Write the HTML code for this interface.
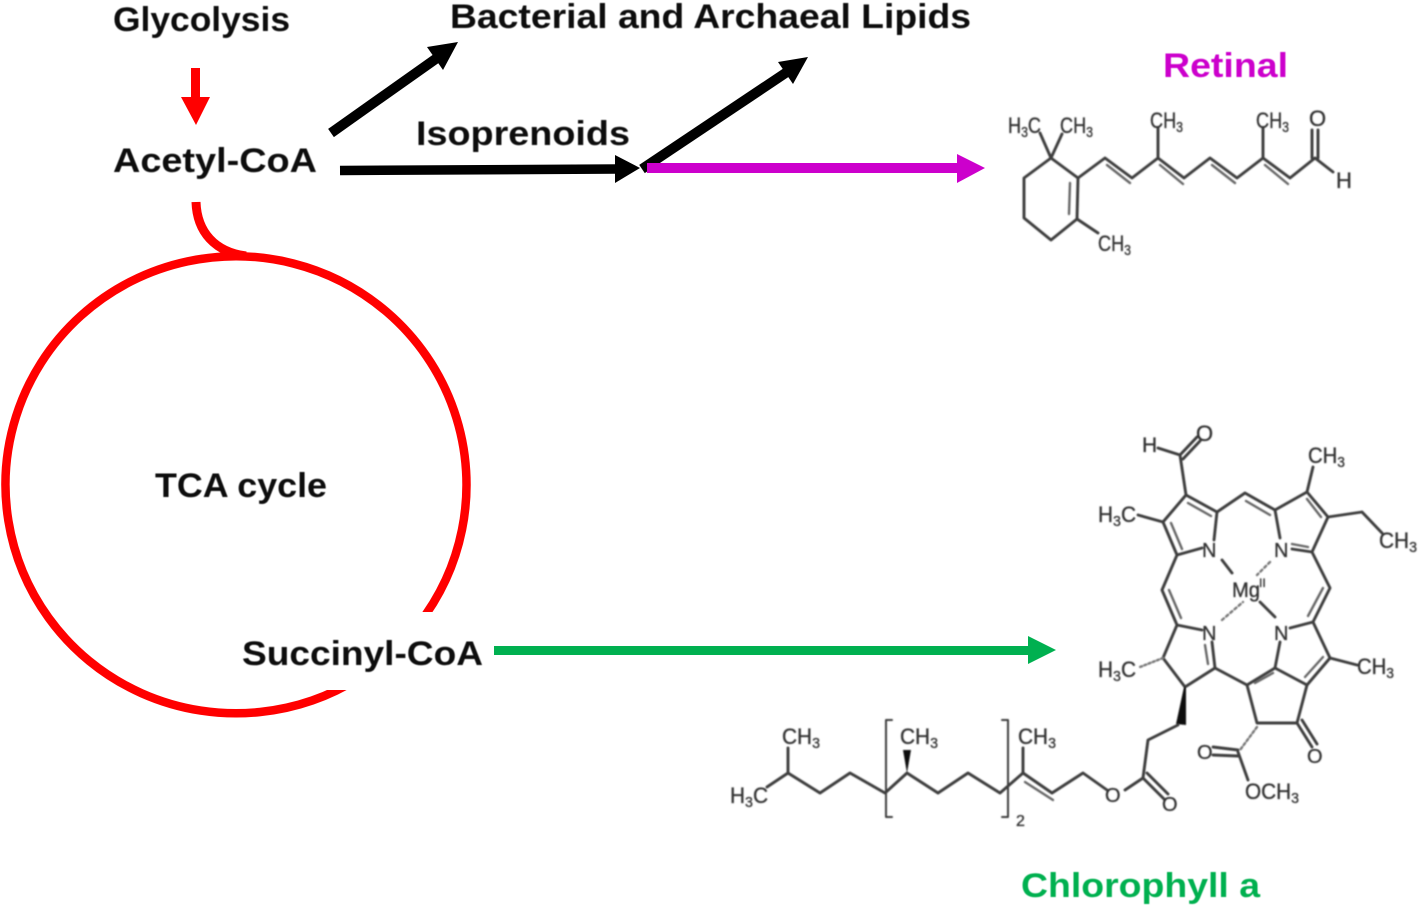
<!DOCTYPE html>
<html><head><meta charset="utf-8"><style>
html,body{margin:0;padding:0;background:#fff;width:1418px;height:905px;overflow:hidden}
svg{display:block}
.t{font-family:"Liberation Sans",sans-serif;font-weight:bold;font-size:34px;fill:#0a0a0a}
.c{font-family:"Liberation Sans",sans-serif;font-size:22px;fill:#333;stroke:#333;stroke-width:.35}
.c .s{font-size:15px}
.b{fill:none;stroke:#3c3c3c;stroke-width:2.9;stroke-linejoin:round;stroke-linecap:round}
.i{fill:none;stroke:#666;stroke-width:2.4;stroke-linecap:round}
.d{fill:none;stroke:#777;stroke-width:2.4;stroke-linecap:round}
</style></head><body>
<svg width="1418" height="905" viewBox="0 0 1418 905" xmlns="http://www.w3.org/2000/svg">
<defs><filter id="bl" x="-5%" y="-5%" width="110%" height="110%"><feGaussianBlur stdDeviation="0.7"/></filter>
<filter id="bt" x="-5%" y="-20%" width="110%" height="140%"><feGaussianBlur stdDeviation="0.4"/></filter></defs>

<!-- TCA cycle -->
<path d="M418 625 A230.5 228.5 0 1 0 360 677.4" fill="none" stroke="#ff0000" stroke-width="8.5"/>
<rect x="400" y="612" width="50" height="20" fill="#fff"/>
<rect x="325" y="668" width="50" height="22" fill="#fff"/>
<path d="M196 202 C197 232 215 252 246 256" fill="none" stroke="#ff0000" stroke-width="9"/>

<!-- red arrow -->
<path d="M191 68H200V97H210L196 125L181 97H191Z" fill="#ff0000"/>

<!-- black arrows -->
<path d="M331 133L437 58" stroke="#000" stroke-width="10" fill="none"/>
<path d="M458 42L427 47L443 70Z" fill="#000"/>
<path d="M340 170.5L618 169" stroke="#000" stroke-width="9.5" fill="none"/>
<path d="M615 155L640 168L615 183Z" fill="#000"/>
<path d="M642 169L787 72" stroke="#000" stroke-width="10" fill="none"/>
<path d="M808 57L778 62L793 84Z" fill="#000"/>

<!-- magenta arrow -->
<path d="M647 163H957V154L985 168L957 183V173H647Z" fill="#cc00cc"/>
<!-- green arrow -->
<path d="M494 646H1028V636L1056 650L1028 664V655H494Z" fill="#00b050"/>

<!-- labels -->
<g filter="url(#bt)">
<text class="t" x="113" y="31" textLength="177" lengthAdjust="spacingAndGlyphs">Glycolysis</text>
<text class="t" x="450" y="28" textLength="521" lengthAdjust="spacingAndGlyphs">Bacterial and Archaeal Lipids</text>
<text class="t" x="1163" y="77" textLength="125" lengthAdjust="spacingAndGlyphs" style="fill:#cc00cc">Retinal</text>
<text class="t" x="416" y="145" textLength="214" lengthAdjust="spacingAndGlyphs">Isoprenoids</text>
<text class="t" x="113" y="172" textLength="204" lengthAdjust="spacingAndGlyphs">Acetyl-CoA</text>
<text class="t" x="155" y="497" textLength="172" lengthAdjust="spacingAndGlyphs">TCA cycle</text>
<text class="t" x="242" y="665" textLength="241" lengthAdjust="spacingAndGlyphs">Succinyl-CoA</text>
<text class="t" x="1021" y="897" textLength="239" lengthAdjust="spacingAndGlyphs" style="fill:#00b050">Chlorophyll a</text>
</g>

<!-- retinal -->
<g filter="url(#bl)">
<path class="b" d="M1051 158L1078 178L1077 219L1051 240L1024 218V178L1051 158"/>
<path class="i" d="M1070 183L1069 214"/>
<path class="b" d="M1051 158L1040 133M1051 158L1062 134M1077 219L1098 233"/>
<path class="b" d="M1078 178L1105 158L1132 178L1158 158L1184 178L1210 158L1237 178L1263 158L1290 178L1315 158L1333 172"/>
<path class="i" d="M1107 165L1130 183M1160 165L1183 184M1212 165L1235 183M1265 165L1288 184"/>
<path class="b" d="M1158 158V128M1263 158V128M1312 158V130M1318 158V130"/>
<text class="c" x="1008" y="133" textLength="33" lengthAdjust="spacingAndGlyphs">H<tspan class="s" dy="4">3</tspan><tspan dy="-4">C</tspan></text>
<text class="c" x="1060" y="133" textLength="33" lengthAdjust="spacingAndGlyphs">CH<tspan class="s" dy="4">3</tspan></text>
<text class="c" x="1150" y="128" textLength="33" lengthAdjust="spacingAndGlyphs">CH<tspan class="s" dy="4">3</tspan></text>
<text class="c" x="1256" y="128" textLength="33" lengthAdjust="spacingAndGlyphs">CH<tspan class="s" dy="4">3</tspan></text>
<text class="c" x="1309" y="126">O</text>
<text class="c" x="1336" y="188">H</text>
<text class="c" x="1098" y="251" textLength="33" lengthAdjust="spacingAndGlyphs">CH<tspan class="s" dy="4">3</tspan></text>
</g>

<!-- chlorophyll a -->
<g filter="url(#bl)">
<path class="b" d="M1186 495L1217 512L1214 540M1202 548L1177 555L1163 522L1186 495"/>
<path class="i" d="M1188 503L1211 516M1171 523L1182 549"/>
<path class="b" d="M1186 495L1180 455L1158 448M1180 455L1197 437M1183 459L1200 441"/>
<path class="b" d="M1163 522L1138 515"/>
<path class="b" d="M1217 512L1245 493L1275 510"/>
<path class="i" d="M1246 501L1270 515"/>
<path class="b" d="M1275 510L1307 492L1328 517L1312 552L1292 549M1275 510L1280 538"/>
<path class="i" d="M1307 499L1321 517M1292 544L1308 547"/>
<path class="b" d="M1307 492L1313 467M1328 517L1362 512L1382 533"/>
<path class="b" d="M1312 552L1330 588L1313 622L1290 628"/>
<path class="i" d="M1323 588L1308 616"/>
<path class="b" d="M1313 622L1330 658L1307 685L1275 668L1280 642"/>
<path class="i" d="M1323 657L1305 677"/>
<path class="b" d="M1330 658L1357 665M1307 685L1297 723L1257 723L1247 685"/>
<path class="b" d="M1275 668L1247 685L1215 668L1212 642"/>
<path class="i" d="M1255 683L1273 673"/>
<path class="i" d="M1205 645L1208 664"/>
<path class="b" d="M1202 630L1177 625L1163 658L1185 687L1215 668M1177 625L1162 590L1177 555"/>
<path class="i" d="M1169 590L1181 618"/>
<path class="b" d="M1222 560L1232 573M1260 602L1275 617"/>
<path class="d" d="M1270 562L1257 575M1222 620L1243 602" stroke-dasharray="2.5 3"/>
<path class="d" d="M1163 658L1140 667" stroke-dasharray="2 2.5"/>
<path class="d" d="M1257 727L1240 750" stroke-dasharray="2.5 2.5"/>
<path d="M1184 687L1186 687L1186 725L1176 724Z" fill="#111"/>
<path class="b" d="M1178 725L1148 740L1143 778L1125 790"/>
<path class="b" d="M1143 778L1164 799M1147 773L1168 794"/>
<path class="b" d="M1297 723L1312 747M1302 720L1317 744"/>
<path class="b" d="M1238 750L1213 747M1238 756L1213 755M1238 752L1248 780"/>
<path class="b" d="M1107 790L1083 773L1052 793L1023 773L1000 793L968 773L938 793L907 773L885 793L850 773L820 793L788 773L767 787"/>
<path class="i" d="M1025 782L1053 800"/>
<path class="b" d="M1023 773V748M788 773V748"/>
<path d="M903 750H911L907 773Z" fill="#111"/>
<path class="b" d="M892 720H886V817H892M1002 720H1008V817H1002" style="stroke-width:2"/>
<text class="c" x="1142" y="452" style="font-size:21px">H</text>
<text class="c" x="1196" y="441">O</text>
<text class="c" x="1098" y="522" textLength="38" lengthAdjust="spacingAndGlyphs">H<tspan class="s" dy="4">3</tspan><tspan dy="-4">C</tspan></text>
<text class="c" x="1308" y="463" textLength="37" lengthAdjust="spacingAndGlyphs">CH<tspan class="s" dy="4">3</tspan></text>
<text class="c" x="1379" y="548" textLength="38" lengthAdjust="spacingAndGlyphs">CH<tspan class="s" dy="4">3</tspan></text>
<text class="c" x="1202" y="557" style="font-size:20px">N</text>
<text class="c" x="1274" y="557" style="font-size:20px">N</text>
<text class="c" x="1202" y="640" style="font-size:20px">N</text>
<text class="c" x="1274" y="640" style="font-size:20px">N</text>
<text class="c" x="1232" y="597" style="font-size:21px" textLength="28" lengthAdjust="spacingAndGlyphs">Mg</text>
<text class="c" x="1259" y="587" style="font-size:12px">II</text>
<text class="c" x="1098" y="677" textLength="38" lengthAdjust="spacingAndGlyphs">H<tspan class="s" dy="4">3</tspan><tspan dy="-4">C</tspan></text>
<text class="c" x="1357" y="674" textLength="37" lengthAdjust="spacingAndGlyphs">CH<tspan class="s" dy="4">3</tspan></text>
<text class="c" x="1307" y="763" style="font-size:20px">O</text>
<text class="c" x="1197" y="759" style="font-size:20px">O</text>
<text class="c" x="1245" y="799" textLength="54" lengthAdjust="spacingAndGlyphs">OCH<tspan class="s" dy="4">3</tspan></text>
<text class="c" x="1105" y="802" style="font-size:20px">O</text>
<text class="c" x="1162" y="811" style="font-size:20px">O</text>
<text class="c" x="782" y="744" textLength="38" lengthAdjust="spacingAndGlyphs">CH<tspan class="s" dy="4">3</tspan></text>
<text class="c" x="900" y="744" textLength="38" lengthAdjust="spacingAndGlyphs">CH<tspan class="s" dy="4">3</tspan></text>
<text class="c" x="1018" y="744" textLength="38" lengthAdjust="spacingAndGlyphs">CH<tspan class="s" dy="4">3</tspan></text>
<text class="c" x="730" y="803" textLength="38" lengthAdjust="spacingAndGlyphs">H<tspan class="s" dy="4">3</tspan><tspan dy="-4">C</tspan></text>
<text class="c" x="1016" y="826" style="font-size:16px">2</text>
</g>
</svg>
</body></html>
